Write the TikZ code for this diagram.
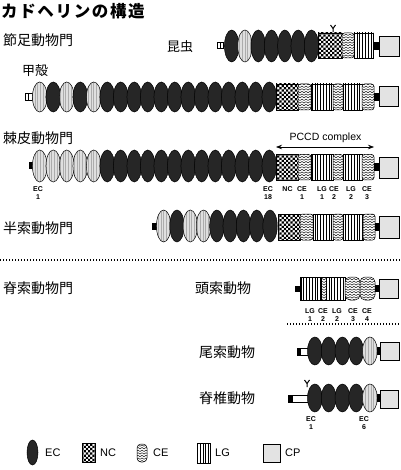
\documentclass[tikz,border=0pt]{standalone}
\usepackage{fontspec}
\setmainfont{Liberation Sans}
\newfontfamily\jp{Noto Sans CJK JP}
\usetikzlibrary{patterns,arrows.meta}

\pgfdeclarepatternformonly{zigzag}{\pgfqpoint{-1pt}{-1pt}}{\pgfqpoint{5pt}{4pt}}{\pgfqpoint{4pt}{2.6pt}}{%
  \pgfsetlinewidth{0.45pt}%
  \pgfpathmoveto{\pgfqpoint{0pt}{0.3pt}}%
  \pgfpathlineto{\pgfqpoint{2pt}{1.7pt}}%
  \pgfpathlineto{\pgfqpoint{4pt}{0.3pt}}%
  \pgfusepath{stroke}%
}
\pgfdeclarepatternformonly{vlines}{\pgfqpoint{-1pt}{-1pt}}{\pgfqpoint{4pt}{4pt}}{\pgfqpoint{2.8pt}{3pt}}{%
  \pgfsetlinewidth{0.8pt}%
  \pgfpathmoveto{\pgfqpoint{1.4pt}{-1pt}}%
  \pgfpathlineto{\pgfqpoint{1.4pt}{4pt}}%
  \pgfusepath{stroke}%
}
\pgfdeclarepatternformonly{smallcheck}{\pgfqpoint{-0.05pt}{-0.05pt}}{\pgfqpoint{4.45pt}{4.45pt}}{\pgfqpoint{4.4pt}{4.4pt}}{%
  \pgfpathrectangle{\pgfqpoint{0pt}{0pt}}{\pgfqpoint{2.2pt}{2.2pt}}%
  \pgfpathrectangle{\pgfqpoint{2.2pt}{2.2pt}}{\pgfqpoint{2.2pt}{2.2pt}}%
  \pgfusepath{fill}%
}

\tikzset{
  ecd/.style={fill=black!85, draw=black, line width=0.5pt},
  ecl/.style={preaction={fill=gray!25}, pattern=vlines, pattern color=gray!65, draw=black, line width=0.5pt},
  nc/.style={preaction={fill=white}, pattern=smallcheck, pattern color=black, draw=black, line width=0.5pt},
  ce/.style={preaction={fill=white}, pattern=zigzag, pattern color=black, draw=black, line width=0.5pt, rounded corners=2.5pt},
  lg/.style={preaction={fill=white}, pattern=vlines, pattern color=black, draw=black, line width=0.5pt},
  cp/.style={fill=gray!22, draw=black, line width=0.6pt},
  tmbar/.style={fill=black},
  jplab/.style={anchor=west, inner sep=0pt, font=\jp\fontsize{14}{16}\selectfont},
  jpsmall/.style={anchor=west, inner sep=0pt, font=\jp\fontsize{13}{15}\selectfont},
  dlab/.style={inner sep=0pt, align=center, font=\bfseries\fontsize{7}{8.5}\selectfont},
  leg/.style={anchor=west, inner sep=0pt, font=\fontsize{11}{13}\selectfont},
  dotline/.style={line width=1.3pt, dash pattern=on 1.3pt off 1.7pt},
  ymark/.style={line width=1pt}
}

\newcommand{\ecoval}[5]{% type, cx, cy, rx, ry
  \ifnum#1=1 \draw[ecl] (#2,#3) ellipse [x radius=#4pt, y radius=#5pt];%
  \else \draw[ecd] (#2,#3) ellipse [x radius=#4pt, y radius=#5pt];\fi}

\begin{document}
\begin{tikzpicture}[x=1pt,y=-1pt]
\useasboundingbox[fill=white] (0,0) rectangle (400,470);

% title
\node[anchor=west, inner sep=0pt, font=\jp\bfseries\fontsize{16.5}{18}\selectfont\addfontfeature{LetterSpace=10}] (title) at (1,11) {カドヘリンの構造};

% labels
\node[jplab] (arth) at (3,40) {節足動物門};
\node[jpsmall] (insect) at (167,47) {昆虫};
\node[jpsmall] (crust) at (22,71) {甲殻};
\node[jplab] (echi) at (3,138) {棘皮動物門};
\node[jplab] (hemi) at (3,228) {半索動物門};
\node[jplab] (chor) at (3,288) {脊索動物門};
\node[jplab] (ceph) at (195,288) {頭索動物};
\node[jplab] (uro) at (199,352) {尾索動物};
\node[jplab] (vert) at (199,398) {脊椎動物};

% ---------- row 1: insect ----------
\draw[fill=white, line width=1pt] (217,42.5) rectangle (223,49);
\draw[line width=0.8pt] (220,42.5) -- (220,49);
\foreach \t [count=\i from 0] in {0,1,0,0,0,0,0} {
  \pgfmathsetmacro\cx{231.65+13.3*\i}\ecoval{\t}{\cx}{46}{7.2}{16}}
\draw[nc] (318,33) rectangle (342,58);
\draw[ce] (342,33) rectangle (354,58);
\draw[lg] (354,33) rectangle (373,58);
\fill[tmbar] (373,42) rectangle (379,50);
\draw[cp] (379,36) rectangle (399,56);
\draw[ymark] (333,32) -- (333,28.5) -- (330.5,25);
\draw[ymark] (333,28.5) -- (335.5,25);

% ---------- row 2: crustacea ----------
\draw[fill=white, line width=1pt] (25,94) rectangle (32,100.5);
\draw[line width=0.8pt] (28.5,94) -- (28.5,100.5);
\foreach \t [count=\i from 0] in {1,0,1,0,1,0,0,0,0,0,0,0,0,0,0,0,0,0} {
  \pgfmathsetmacro\cx{39.75+13.5*\i}\ecoval{\t}{\cx}{97}{7.3}{15}}
\draw[nc] (276,84) rectangle (298,110);
\draw[ce] (298,84) rectangle (311,110);
\draw[lg] (311,84) rectangle (333,110);
\draw[ce] (333,84) rectangle (343,110);
\draw[lg] (343,84) rectangle (362,110);
\draw[ce] (362,84) rectangle (374,110);
\fill[tmbar] (374,93) rectangle (379,101);
\draw[cp] (379,86) rectangle (398,106);

% PCCD complex
\coordinate (pa) at (276,147);
\coordinate (pb) at (374,147);
\draw[{Stealth[length=6pt,width=4.5pt]}-{Stealth[length=6pt,width=4.5pt]}, line width=0.7pt] (pa) -- (pb);
\node[inner sep=0pt, font=\fontsize{10.5}{12}\selectfont] (pccd) at (325.5,138) {PCCD complex};

% ---------- row 3: echinoderm ----------
\fill[black] (29,162) rectangle (33,169);
\foreach \t [count=\i from 0] in {1,1,1,1,1,0,0,0,0,0,0,0,0,0,0,0,0,0} {
  \pgfmathsetmacro\cx{39.75+13.5*\i}\ecoval{\t}{\cx}{166}{7.3}{16}}
\draw[nc] (276,154.5) rectangle (298,180);
\draw[ce] (298,154.5) rectangle (311,180);
\draw[lg] (311,154.5) rectangle (333,180);
\draw[ce] (333,154.5) rectangle (343,180);
\draw[lg] (343,154.5) rectangle (362,180);
\draw[ce] (362,154.5) rectangle (374,180);
\fill[tmbar] (374,163) rectangle (379,171);
\draw[cp] (379,157) rectangle (398,178);
\node[dlab] (e1) at (38,193) {EC\\1};
\node[dlab] (e18) at (268,193) {EC\\18};
\node[dlab] (nc3) at (287.5,189) {NC};
\node[dlab] (ce31) at (302,193) {CE\\1};
\node[dlab] (lg31) at (322,193) {LG\\1};
\node[dlab] (ce32) at (334,193) {CE\\2};
\node[dlab] (lg32) at (351,193) {LG\\2};
\node[dlab] (ce33) at (367,193) {CE\\3};

% ---------- row 4: hemichordata ----------
\fill[black] (152,223) rectangle (157,229.5);
\foreach \t [count=\i from 0] in {1,0,1,1,0,0,0,0,0} {
  \pgfmathsetmacro\cx{163.65+13.3*\i}\ecoval{\t}{\cx}{226}{7.2}{16}}
\draw[nc] (278,214) rectangle (300,240);
\draw[ce] (300,214) rectangle (313,240);
\draw[lg] (313,214) rectangle (333,240);
\draw[ce] (333,214) rectangle (343,240);
\draw[lg] (343,214) rectangle (363,240);
\draw[ce] (363,214) rectangle (375,240);
\fill[tmbar] (375,223) rectangle (379,231);
\draw[cp] (379,216) rectangle (399,238);

% dotted separators
\coordinate (d1a) at (0,260);
\coordinate (d1b) at (400,260);
\draw[dotline] (d1a) -- (d1b);
\coordinate (d2a) at (287,324);
\coordinate (d2b) at (400,324);
\draw[dotline] (d2a) -- (d2b);

% ---------- row 5: cephalochordata ----------
\fill[black] (295,285.5) rectangle (300,292);
\draw[lg] (300,277) rectangle (321,300);
\draw[ce, rounded corners=0pt] (321,277) rectangle (326,300);
\draw[lg] (326,277) rectangle (345,300);
\draw[ce, rounded corners=5pt] (345,277) rectangle (360,300);
\draw[ce, rounded corners=5pt] (360,277) rectangle (375,300);
\fill[tmbar] (375,285) rectangle (379,292);
\draw[cp] (379,279) rectangle (398,298);
\node[dlab] (lg51) at (310,315) {LG\\1};
\node[dlab] (ce52) at (323,315) {CE\\2};
\node[dlab] (lg52) at (337,315) {LG\\2};
\node[dlab] (ce53) at (353,315) {CE\\3};
\node[dlab] (ce54) at (367,315) {CE\\4};

% ---------- row 6: urochordata ----------
\draw[fill=white, line width=0.8pt] (297,348) rectangle (308,355);
\fill[black] (297,348) rectangle (300.5,355);
\foreach \t [count=\i from 0] in {0,0,0,0,1} {
  \pgfmathsetmacro\cx{314.9+13.75*\i}\ecoval{\t}{\cx}{351}{7.4}{14}}
\fill[tmbar] (377,347) rectangle (380,355);
\draw[cp] (380,342) rectangle (399,360);

% ---------- row 7: vertebrata ----------
\draw[fill=white, line width=0.8pt] (288,395) rectangle (308,402);
\fill[black] (288,395) rectangle (293,402);
\foreach \t [count=\i from 0] in {0,0,0,0,1} {
  \pgfmathsetmacro\cx{314.9+13.75*\i}\ecoval{\t}{\cx}{398}{7.4}{14}}
\fill[tmbar] (377,394) rectangle (380,402);
\draw[cp] (380,390) rectangle (398,408);
\draw[ymark] (307,387) -- (307,383.5) -- (304.5,380);
\draw[ymark] (307,383.5) -- (309.5,380);
\node[dlab] (v1) at (311,423) {EC\\1};
\node[dlab] (v6) at (364,423) {EC\\6};

% ---------- legend ----------
\draw[ecd] (32.5,452.5) ellipse [x radius=5.5pt, y radius=12.5pt];
\node[leg] (lec) at (45,452.5) {EC};
\draw[nc] (82,443) rectangle (95,462);
\node[leg] (lnc) at (100,452.5) {NC};
\draw[ce, rounded corners=4pt] (137,444) rectangle (147,462);
\node[leg] (lce) at (153,452.5) {CE};
\draw[lg] (197,443) rectangle (210,463);
\node[leg] (llg) at (215,452.5) {LG};
\draw[cp] (263,444.5) rectangle (280,462);
\node[leg] (lcp) at (285,452.5) {CP};
\end{tikzpicture}
\end{document}
